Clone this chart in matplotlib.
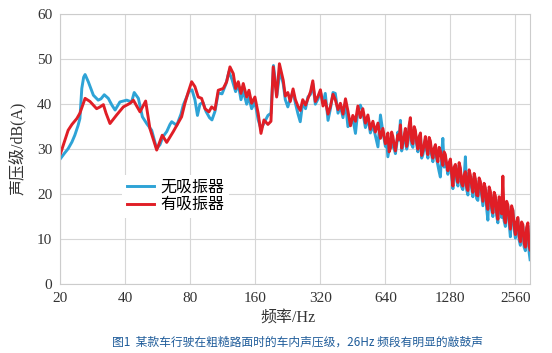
import numpy as np
import matplotlib
matplotlib.use("Agg")
import matplotlib.pyplot as plt

plt.rcParams['font.family'] = ['Liberation Serif', 'Noto Sans CJK SC', 'DejaVu Sans']

# 低频段（较平滑），两条曲线分别读数
freq_lo_no = [20, 20.8, 21.7, 22.6, 23.3, 24.1, 24.6, 25.1, 25.6, 26.0, 26.9, 28.4, 29.9, 30.8,
              31.9, 33.3, 34.6, 35.8, 37.7, 40.5, 42.7, 43.9, 45.9, 47.9, 50.3, 52.9, 55.8, 57.8,
              59.7, 62.1, 64.3, 65.5, 69.1, 72.3, 74.1, 76.8, 78.7, 81.3, 83.9, 86.2, 88.5, 91.4,
              94.4, 98.0, 100.6, 103.9, 107.6, 112.0, 116.8, 120.6, 124.6, 129.5, 133.2, 137.1,
              140.5, 145.7, 149.3, 153.6, 159.1, 164.8, 169.7, 175.2, 182.8, 188.8, 193.9, 201.2,
              207.9, 215.2]
spl_lo_no = [27.9, 29.0, 30.1, 31.6, 33.1, 35.2, 36.8, 43.5, 46.0, 46.6, 45.0, 42.0, 40.9, 41.2,
             42.1, 41.3, 39.8, 38.7, 40.5, 40.9, 40.5, 42.6, 41.3, 37.2, 35.6, 34.2, 30.1, 31.0,
             32.8, 33.9, 35.5, 36.1, 35.3, 37.8, 39.8, 41.6, 42.8, 43.2, 41.0, 37.5, 40.0, 40.4,
             38.4, 37.0, 36.5, 38.4, 42.5, 42.3, 44.5, 47.2, 45.5, 42.8, 44.5, 41.0,
             43.0, 40.0, 41.5, 39.0, 40.5, 36.5, 34.5, 35.8, 37.5, 38.0, 48.6, 42.0,
             47.5, 44.5]

freq_lo_with = [20, 20.8, 21.7, 22.6, 23.8, 24.6, 26.0, 27.4, 29.4, 30.5, 31.6, 32.5, 33.9, 36.4,
                39.1, 42.0, 43.5, 45.2, 46.7, 49.6, 51.9, 53.6, 55.8, 59.2, 62.1, 66.6, 72.8, 75.4,
                77.9, 81.0, 83.9, 86.9, 90.1, 93.4, 97.4, 100.3, 103.9, 107.6, 113.5, 117.7, 121.9,
                126.3, 129.5, 133.2, 137.1, 140.5, 145.7, 149.3, 153.6, 159.1, 164.8, 169.7, 175.2,
                182.8, 188.8, 193.4, 200.6, 206.6, 215.2]
spl_lo_with = [29.0, 31.5, 34.2, 35.5, 36.8, 38.0, 41.3, 40.6, 39.0, 39.4, 39.9, 38.0, 35.7, 37.6,
               39.4, 40.2, 40.9, 39.5, 38.3, 40.7, 34.6, 32.5, 29.8, 33.1, 31.5, 33.9, 37.2, 40.2,
               42.5, 45.0, 43.9, 41.6, 41.3, 39.0, 38.3, 39.4, 38.8, 43.1, 43.5, 45.0, 48.3,
               46.8, 43.5, 45.0, 42.4, 44.6, 41.6, 43.1, 40.2, 41.6, 37.9, 33.5, 36.5,
               35.5, 36.2, 48.3, 41.6, 49.0, 45.3]

# 高频段（噪声密集），共用频率点
freq_hi = [220, 226, 232, 239, 245, 252, 258, 265, 273, 280, 288, 295, 303, 312,
           320, 329, 337, 347, 356, 366, 375, 386, 396, 407, 418, 429, 441, 452, 465, 477, 490,
           503, 517, 531, 545, 560, 575, 591, 607, 623,
           640, 649, 657, 666, 675, 684, 693, 703, 712, 722, 731, 741, 751, 761, 771, 782, 792,
           803, 813, 824, 835, 847, 858, 870, 881, 893, 905, 917, 930, 942, 955, 967, 980, 994,
           1007, 1020, 1034, 1048, 1062, 1076, 1091, 1105, 1120, 1135, 1150, 1166, 1181, 1197,
           1213, 1230, 1246, 1263,
           1280, 1297, 1315, 1332, 1350, 1368, 1387, 1405, 1424, 1443, 1462, 1482, 1502, 1522,
           1543, 1563, 1584, 1606, 1627, 1649, 1671, 1693, 1716, 1739, 1762, 1786, 1810, 1834,
           1859, 1884, 1909, 1935, 1961, 1987, 2014, 2041, 2068, 2096, 2124, 2152, 2181, 2211,
           2240, 2270, 2301, 2332, 2363, 2395, 2427, 2459, 2492, 2526,
           2560, 2594, 2629, 2664, 2700, 2736, 2773, 2810, 2848, 2886, 2925, 2964, 2995]
spl_hi_no = [41.0, 39.4, 41.2, 42.8, 40.2, 37.8, 36.1, 40.4, 39.0, 41.6, 42.2, 44.6, 40.0, 41.2,
             42.8, 40.2, 42.4, 36.4, 39.0, 42.6, 42.4, 38.0, 39.6, 37.0, 40.4, 35.0, 35.6, 36.8,
             33.5, 38.6, 39.8, 38.2, 34.8, 37.0, 33.6, 35.4, 33.0, 30.5, 37.6, 33.8,
             30.6, 31.4, 28.3, 30.0, 31.8, 30.4, 32.0, 30.0, 29.0, 31.0, 33.8, 32.0, 36.4, 29.6,
             30.6, 32.6, 34.0, 30.0, 31.2, 34.6, 36.2, 31.0, 30.4, 34.4, 33.6, 31.0, 29.4, 32.2,
             33.0, 28.0, 28.8, 30.4, 32.2, 29.6, 28.0, 32.0, 31.2, 28.6, 27.2, 29.6, 30.4, 27.8,
             26.4, 25.0, 23.8, 29.0, 32.4, 26.0, 28.2, 26.0, 24.4, 26.4,
             27.2, 24.0, 21.2, 25.4, 26.0, 23.0, 21.8, 26.4, 25.2, 21.6, 21.0, 23.6, 28.3, 21.0,
             19.8, 24.8, 23.6, 21.2, 19.4, 24.0, 22.8, 19.0, 18.6, 23.0, 22.2, 19.8, 17.4, 21.8,
             20.8, 16.8, 14.2, 21.0, 20.0, 16.4, 15.0, 19.8, 19.0, 15.2, 13.6, 18.8, 18.2, 14.8,
             16.4, 14.0, 12.8, 17.8, 17.2, 13.4, 10.5, 16.8, 16.4, 12.2,
             10.2, 13.2, 14.4, 9.8, 8.6, 13.0, 12.8, 8.2, 7.4, 12.0, 13.0, 7.0, 5.4]
spl_hi_with = [41.8, 42.6, 40.6, 43.4, 41.0, 39.5, 38.6, 41.0, 39.8, 41.2, 42.8, 45.2, 40.6, 41.8,
               43.2, 39.6, 40.8, 37.8, 39.5, 42.2, 41.0, 38.8, 40.2, 37.8, 41.2, 38.5, 35.2, 37.5,
               36.2, 39.6, 37.0, 39.0, 35.8, 37.6, 34.4, 36.2, 33.8, 35.8, 32.4, 34.6,
               31.2, 32.0, 33.6, 29.4, 30.2, 33.8, 32.8, 30.8, 29.6, 31.6, 33.2, 32.2, 35.4, 30.2,
               31.4, 33.0, 34.6, 30.6, 32.0, 35.2, 37.0, 31.8, 31.2, 35.0, 34.2, 31.6, 30.0, 32.8,
               33.6, 28.6, 29.6, 31.0, 32.8, 30.2, 28.8, 32.6, 31.8, 29.2, 28.0, 30.2, 31.0, 28.4,
               27.2, 30.4, 29.6, 27.8, 26.4, 29.4, 28.8, 26.6, 25.2, 27.0,
               27.8, 24.6, 21.8, 26.0, 26.6, 23.8, 22.6, 27.0, 25.8, 22.4, 21.8, 24.2, 25.0, 21.6,
               20.8, 25.4, 24.2, 22.0, 20.4, 24.6, 23.4, 19.8, 19.6, 23.6, 22.8, 20.6, 18.4, 22.4,
               21.4, 17.8, 16.6, 21.6, 20.6, 17.2, 15.8, 20.4, 19.6, 16.0, 14.4, 19.4, 18.8, 15.6,
               24.0, 14.8, 13.6, 18.4, 17.6, 14.2, 12.2, 17.4, 16.4, 13.0,
               11.0, 13.8, 14.8, 10.6, 9.4, 13.8, 13.2, 9.0, 8.2, 12.6, 13.6, 8.4, 7.6]

xticks = [20, 40, 80, 160, 320, 640, 1280, 2560]
yticks = [0, 10, 20, 30, 40, 50, 60]

fig = plt.figure(figsize=(5.52, 3.53), dpi=100)
ax = fig.add_axes([0.1096, 0.1955, 0.851, 0.764])

ax.plot(freq_lo_no + freq_hi, spl_lo_no + spl_hi_no, color='#2ea3d6', lw=2.1,
        label='无吸振器', solid_joinstyle='round')
ax.plot(freq_lo_with + freq_hi, spl_lo_with + spl_hi_with, color='#e01e26', lw=2.1,
        label='有吸振器', solid_joinstyle='round')

ax.set_xscale('log', base=2)
ax.set_xlim(20, 3000)
ax.set_ylim(0, 60)
ax.set_xticks(xticks)
ax.set_xticklabels([str(t) for t in xticks])
ax.xaxis.set_minor_locator(matplotlib.ticker.NullLocator())
ax.set_yticks(yticks)
ax.tick_params(length=0, labelsize=11, colors='#333333', pad=6)
ax.grid(True, color='#d6d6d6', lw=0.8)
ax.set_axisbelow(True)
for s in ax.spines.values():
    s.set_color('#cccccc')
    s.set_linewidth(0.8)

leg = ax.legend(loc='center', bbox_to_anchor=(0.245, 0.325), frameon=True, fancybox=False,
                handlelength=1.7, handletextpad=0.35, labelspacing=0.12, fontsize=11.5,
                borderpad=0.3)
leg.get_frame().set_edgecolor('none')
leg.get_frame().set_facecolor('white')
leg.get_frame().set_alpha(1)

fig.text(0.031, 0.58, '声压级/dB(A)', rotation=90, ha='center', va='center', fontsize=11.5,
         color='#333333')
fig.text(0.522, 0.099, '频率/Hz', ha='center', va='center', fontsize=11.5, color='#333333')
fig.text(0.538, 0.031, '图1  某款车行驶在粗糙路面时的车内声压级，26Hz 频段有明显的敲鼓声',
         ha='center', va='center', fontsize=8.5, color='#1f5c9a', family=['Noto Sans CJK SC'])

fig.savefig('out.png', dpi=100)
